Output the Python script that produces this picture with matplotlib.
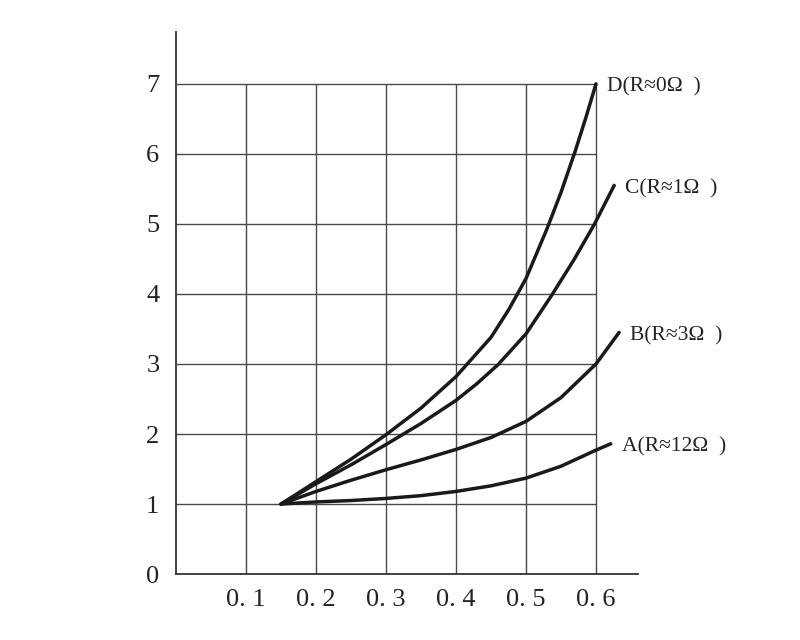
import matplotlib
matplotlib.use('Agg')
import matplotlib.pyplot as plt

plt.rcParams['font.family'] = ['Liberation Serif', 'DejaVu Serif']

# 曲线数据
xD = [0.15, 0.2, 0.25, 0.3, 0.35, 0.4, 0.45, 0.475, 0.5, 0.53, 0.55, 0.57, 0.585, 0.6]
yD = [1.0, 1.32, 1.64, 1.99, 2.37, 2.82, 3.38, 3.77, 4.22, 4.93, 5.45, 6.03, 6.5, 7.0]
xC = [0.15, 0.2, 0.25, 0.3, 0.35, 0.4, 0.43, 0.46, 0.5, 0.536, 0.568, 0.598, 0.626]
yC = [1.0, 1.29, 1.56, 1.85, 2.15, 2.48, 2.72, 2.99, 3.43, 3.97, 4.48, 5.0, 5.55]
xB = [0.15, 0.2, 0.25, 0.3, 0.35, 0.4, 0.45, 0.5, 0.55, 0.6, 0.633]
yB = [1.0, 1.18, 1.34, 1.49, 1.63, 1.78, 1.95, 2.18, 2.52, 3.0, 3.45]
xA = [0.15, 0.2, 0.25, 0.3, 0.35, 0.4, 0.45, 0.5, 0.55, 0.6, 0.621]
yA = [1.0, 1.03, 1.05, 1.08, 1.12, 1.18, 1.26, 1.37, 1.54, 1.77, 1.86]
labels = ['D(R≈0Ω  )', 'C(R≈1Ω  )', 'B(R≈3Ω  )', 'A(R≈12Ω  )']

xticks = [0.1, 0.2, 0.3, 0.4, 0.5, 0.6]
xticklabels = ['0. 1', '0. 2', '0. 3', '0. 4', '0. 5', '0. 6']
yticks = [0, 1, 2, 3, 4, 5, 6, 7]

fig = plt.figure(figsize=(8, 6.4), dpi=100)
ax = fig.add_axes([0.22, 0.103, 0.5775, 0.847])
ax.set_xlim(0, 0.66)
ax.set_ylim(0, 7.74)

# 网格
ax.vlines(xticks, 0, 7, colors='#4a4a4a', lw=1.0, zorder=1)
ax.hlines(yticks[1:], 0, 0.6, colors='#4a4a4a', lw=1.0, zorder=1)

for xs, ys, lab in zip([xD, xC, xB, xA], [yD, yC, yB, yA], labels):
    ax.plot(xs, ys, color='#1a1a1a', lw=2.5, solid_capstyle='round',
            solid_joinstyle='round', zorder=3)
    ax.annotate(lab, (xs[-1], ys[-1]), xytext=(11, -3), textcoords='offset pixels',
                ha='left', va='center', fontsize=15.5, color='#222222')

ax.spines['top'].set_visible(False)
ax.spines['right'].set_visible(False)
for s in ['left', 'bottom']:
    ax.spines[s].set_color('#333333')
    ax.spines[s].set_linewidth(1.3)

ax.set_xticks(xticks)
ax.set_xticklabels(xticklabels)
ax.set_yticks(yticks)
ax.tick_params(axis='both', length=0, labelsize=19, colors='#222222')
ax.tick_params(axis='x', pad=11)
ax.tick_params(axis='y', pad=12)

fig.savefig('out.png', dpi=100, facecolor='white')
